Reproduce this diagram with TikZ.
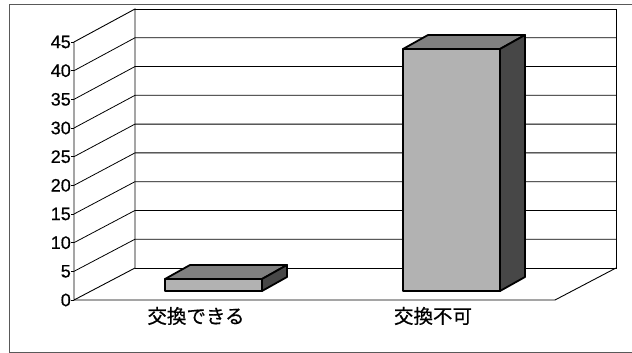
\documentclass[tikz,border=0pt]{standalone}
\usepackage{fontspec}
\setmainfont{Liberation Sans}
\newfontfamily\numfont{Liberation Sans}[FakeBold=0.5]
\newfontfamily\jpfont{Noto Sans CJK JP}[FakeBold=0.5]
\begin{document}
\begin{tikzpicture}[x=1pt,y=-1pt,
  wall/.style={draw=black,line width=0.9pt},
  grid/.style={draw=black,line width=0.8pt},
  frontface/.style={fill=black!30,draw=black,line width=1.8pt,line join=round},
  topface/.style={fill=black!50,draw=black,line width=1.8pt,line join=round},
  sideface/.style={fill=black!72,draw=black,line width=1.8pt,line join=round},
  ylab/.style={font=\numfont\fontsize{18}{18}\selectfont,anchor=east,inner sep=0pt},
  catlab/.style={font=\jpfont\fontsize{19.5}{20}\selectfont,inner sep=0pt}]
\useasboundingbox (0,0) rectangle (632,353);
% outer frame
\draw[draw=black!65,line width=1pt] (640,5) -- (9,5) -- (9,352) -- (640,352);
% walls
\coordinate (fl0) at (74,300);
\coordinate (fl45) at (74,42);
\coordinate (bl0) at (135,268);
\coordinate (bl45) at (135,9);
\coordinate (br0) at (616,268);
\coordinate (br45) at (616,9);
\coordinate (fr0) at (555,300);
\draw[wall] (fl0) -- (fl45) -- (bl45) -- (bl0) -- cycle;
\draw[wall] (bl45) -- (br45) -- (br0) -- (bl0);
\draw[wall] (fl0) -- (fr0) -- (br0);
% gridlines
\foreach \v in {5,10,...,40}{
  \draw[grid] (74,{300-5.733*\v}) -- (135,{268-5.756*\v}) -- (616,{268-5.756*\v});
}
% ticks and labels
\foreach \v in {0,5,...,45}{
  \draw[line width=0.8pt] (71,{300-5.733*\v}) -- (74,{300-5.733*\v});
  \node[ylab] (y\v) at (71,{300-5.733*\v}) {\v};
}
% bar 1 (value 2)
\fill[topface] (165,279) -- (190,265) -- (287,265) -- (262,279) -- cycle;
\fill[sideface] (262,279) -- (287,265) -- (287,277) -- (262,291) -- cycle;
\fill[frontface] (165,279) rectangle (262,291);
% bar 2 (value 42)
\fill[topface] (403,49) -- (428,35) -- (525,35) -- (500,49) -- cycle;
\fill[sideface] (500,49) -- (525,35) -- (525,277) -- (500,291) -- cycle;
\fill[frontface] (403,49) rectangle (500,291);
% category labels
\node[catlab] (c1) at (196,316) {交換できる};
\node[catlab] (c2) at (433,316) {交換不可};
\end{tikzpicture}
\end{document}
